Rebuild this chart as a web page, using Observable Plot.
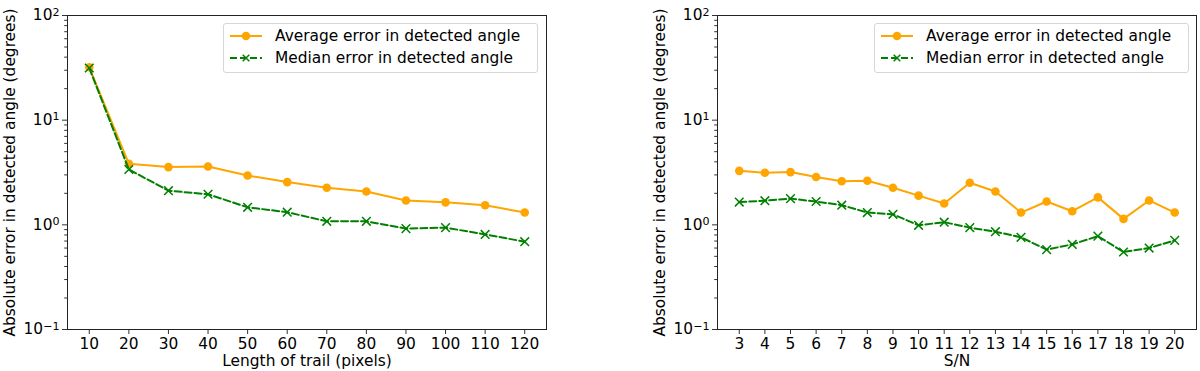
<!DOCTYPE html>
<html>
<head>
<meta charset="utf-8">
<script src="https://cdn.jsdelivr.net/npm/d3@7"></script>
<script src="https://cdn.jsdelivr.net/npm/@observablehq/plot@0.6"></script>
<style>
  body { margin: 0; background: #fff; }
  #wrap { position: relative; width: 1200px; height: 371px; overflow: hidden; font-family: "DejaVu Sans", sans-serif; }
  .panel { position: absolute; top: 0; width: 600px; height: 371px; }
  .legend { position: absolute; top: 23px; width: 313px; height: 48px; border: 1px solid #d6d6d6; border-radius: 3px; background: rgba(255,255,255,0.8); }
  .legend svg { display: block; }
</style>
</head>
<body>
<div id="wrap"></div>
<script>
// ---- data ----
const trailLengths = [10, 20, 30, 40, 50, 60, 70, 80, 90, 100, 110, 120];
const avgByLength = [32, 3.83, 3.56, 3.61, 2.96, 2.56, 2.26, 2.08, 1.71, 1.64, 1.54, 1.31];
const medByLength = [31.5, 3.38, 2.12, 1.96, 1.47, 1.32, 1.08, 1.08, 0.92, 0.94, 0.81, 0.69];

const snrValues = [3, 4, 5, 6, 7, 8, 9, 10, 11, 12, 13, 14, 15, 16, 17, 18, 19, 20];
const avgBySnr = [3.28, 3.14, 3.19, 2.86, 2.61, 2.64, 2.26, 1.90, 1.60, 2.52, 2.08, 1.31, 1.67, 1.35, 1.83, 1.14, 1.71, 1.31];
const medBySnr = [1.65, 1.70, 1.78, 1.67, 1.54, 1.31, 1.26, 0.99, 1.06, 0.94, 0.86, 0.76, 0.58, 0.65, 0.78, 0.55, 0.60, 0.71];

const yMajorTicks = [0.1, 1, 10, 100];
const yMajorExponents = ["\u22121", "0", "1", "2"];
const seriesNames = ["Average error in detected angle", "Median error in detected angle"];
const yLabel = "Absolute error in detected angle (degrees)";
const xLabels = ["Length of trail (pixels)", "S/N"];

const avgColor = "#ffa500";
const medColor = "#008000";
const FS = 15.4;

const yMinorTicks = [];
for (const p of [0.1, 1, 10]) for (let k = 2; k <= 9; k++) yMinorTicks.push(+(k * p).toPrecision(3));

function makePanel(xs, avg, med, xDomain, xTicks, xLabel, marginLeft, marginRight, yLabelX) {
  const avgData = xs.map((x, i) => ({x, y: avg[i]}));
  const medData = xs.map((x, i) => ({x, y: med[i]}));
  const svg = Plot.plot({
    width: 600,
    height: 371,
    marginLeft, marginRight,
    marginTop: 15,
    marginBottom: 42,
    style: {fontFamily: "DejaVu Sans, sans-serif", fontSize: FS + "px", color: "#000", background: "transparent"},
    x: {domain: xDomain},
    y: {type: "log", domain: [0.1, 100]},
    marks: [
      Plot.axisY(yMinorTicks, {tickSize: 2.8, tickFormat: () => "", stroke: "#333", label: null}),
      Plot.axisY(yMajorTicks, {tickSize: 5, tickPadding: 3, stroke: "#333",
        tickFormat: d => "10^" + yMajorExponents[yMajorTicks.indexOf(d)], label: null, fontSize: FS}),
      Plot.axisX(xTicks, {tickSize: 5, tickPadding: 3.5, stroke: "#333", label: null, fontSize: FS}),
      Plot.text([yLabel], {frameAnchor: "left", rotate: -90, dx: -(marginLeft - yLabelX), textAnchor: "middle", lineAnchor: "middle", fontSize: FS, fill: "#000"}),
      Plot.text([xLabel], {frameAnchor: "bottom", dy: 32, lineAnchor: "middle", fontSize: FS, fill: "#000"}),
      Plot.line(avgData, {x: "x", y: "y", stroke: avgColor, strokeWidth: 2}),
      Plot.dot(avgData, {x: "x", y: "y", fill: avgColor, r: 4.3, stroke: "none"}),
      Plot.line(medData, {x: "x", y: "y", stroke: medColor, strokeWidth: 2, strokeDasharray: "7,3"}),
      Plot.dot(medData, {x: "x", y: "y", stroke: medColor, symbol: "times", r: 4, strokeWidth: 1.5}),
      Plot.frame({stroke: "#222", strokeWidth: 1})
    ]
  });
  // render "10^n" tick labels with a real superscript
  d3.select(svg).selectAll("text").each(function() {
    const t = d3.select(this);
    const m = /^10\^(.+)$/.exec(t.text());
    if (m) {
      t.text("10");
      t.append("tspan").attr("dy", "-0.42em").attr("font-size", "0.72em").text(m[1]);
    }
  });
  return svg;
}

function makeLegend() {
  const svg = d3.create("svg").attr("width", 313).attr("height", 48)
    .style("font-family", "DejaVu Sans, sans-serif").style("font-size", FS + "px");
  const rows = [
    {y: 12, color: avgColor, dash: null, marker: "dot"},
    {y: 34, color: medColor, dash: "7,3", marker: "x"}
  ];
  rows.forEach((r, i) => {
    svg.append("line").attr("x1", 6).attr("x2", 38).attr("y1", r.y).attr("y2", r.y)
      .attr("stroke", r.color).attr("stroke-width", 2).attr("stroke-dasharray", r.dash);
    if (r.marker === "dot") {
      svg.append("circle").attr("cx", 22).attr("cy", r.y).attr("r", 4.3).attr("fill", r.color);
    } else {
      svg.append("path").attr("d", `M${22-3.3},${r.y-3.3}L${22+3.3},${r.y+3.3}M${22-3.3},${r.y+3.3}L${22+3.3},${r.y-3.3}`)
        .attr("stroke", r.color).attr("stroke-width", 1.5);
    }
    svg.append("text").attr("x", 51).attr("y", r.y).attr("dy", "0.35em").attr("fill", "#000").text(seriesNames[i]);
  });
  return svg.node();
}

const wrap = document.getElementById("wrap");

const left = document.createElement("div");
left.className = "panel"; left.style.left = "0px";
left.appendChild(makePanel(trailLengths, avgByLength, medByLength, [4.5, 125.5], trailLengths, xLabels[0], 67, 54, 10));
const leg1 = document.createElement("div");
leg1.className = "legend"; leg1.style.left = "223px";
leg1.appendChild(makeLegend());
left.appendChild(leg1);
wrap.appendChild(left);

const right = document.createElement("div");
right.className = "panel"; right.style.left = "600px";
right.appendChild(makePanel(snrValues, avgBySnr, medBySnr, [2.15, 20.85], snrValues, xLabels[1], 117, 4, 60));
const leg2 = document.createElement("div");
leg2.className = "legend"; leg2.style.left = "274px";
leg2.appendChild(makeLegend());
right.appendChild(leg2);
wrap.appendChild(right);
</script>
</body>
</html>
